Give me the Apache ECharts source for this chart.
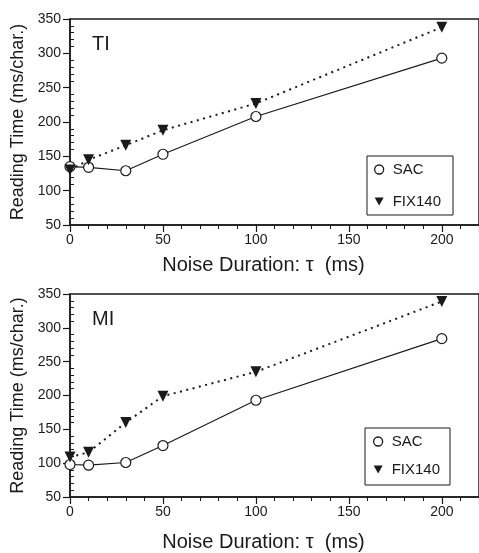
<!DOCTYPE html>
<html>
<head>
<meta charset="utf-8">
<script src="https://cdn.jsdelivr.net/npm/echarts@6/dist/echarts.min.js"></script>
<style>
  html, body { margin: 0; padding: 0; background: #fff; }
  #chart { width: 479px; height: 553px; }
</style>
</head>
<body>
<div id="chart"></div>
<script>
// noise duration (ms) on the x axis
const noiseDuration = [0, 10, 30, 50, 100, 200]

// reading time (ms/char.), top panel TI
const tiSAC = [135, 134, 129, 153, 208, 293]
const tiFIX140 = [130, 145, 166, 188, 227, 338]

// reading time (ms/char.), bottom panel MI
const miSAC = [98, 97, 101, 126, 193, 284]
const miFIX140 = [109, 116, 160, 199, 235, 339]

const panelLabels = ['TI', 'MI']
const seriesNames = ['SAC', 'FIX140']

const FONT = '"Liberation Sans", Arial, Helvetica, sans-serif'
const INK = '#1a1a1a'
const DOWN_TRIANGLE = 'path://M0,0L10,0L5,9Z'

const pairs = (ys) => noiseDuration.map((x, i) => [x, ys[i]])

const chart = echarts.init(document.getElementById('chart'))

const makeX = (gridIndex, nameGap) => ({
  type: 'value',
  gridIndex,
  min: 0,
  max: 220,
  interval: 50,
  name: 'Noise Duration: τ  (ms)',
  nameLocation: 'middle',
  nameGap,
  nameTextStyle: { fontFamily: FONT, fontSize: 20, color: INK, padding: [0, 22, 0, 0] },
  axisLine: { show: true, lineStyle: { color: INK, width: 1.5 } },
  axisTick: { show: true, length: 7, lineStyle: { color: INK, width: 1.2 } },
  minorTick: { show: true, splitNumber: 5, length: 4, lineStyle: { color: INK, width: 1 } },
  axisLabel: { fontFamily: FONT, fontSize: 14, color: INK, margin: 8, showMaxLabel: false },
  splitLine: { show: false }
})

const makeY = (gridIndex) => ({
  type: 'value',
  gridIndex,
  position: 'left',
  min: 50,
  max: 350,
  interval: 50,
  name: 'Reading Time (ms/char.)',
  nameLocation: 'middle',
  nameGap: 42,
  nameTextStyle: { fontFamily: FONT, fontSize: 18, color: INK },
  axisLine: { show: true, lineStyle: { color: INK, width: 1.5 } },
  axisTick: { show: true, length: 7, lineStyle: { color: INK, width: 1.2 } },
  axisLabel: { fontFamily: FONT, fontSize: 14, color: INK, margin: 9 },
  splitLine: { show: false }
})

// overlay axis: only the minor ticks, pointing into the plot
const makeYMinor = (gridIndex) => ({
  type: 'value',
  gridIndex,
  position: 'left',
  min: 50,
  max: 350,
  interval: 50,
  axisLine: { show: false, onZero: false },
  axisTick: { show: false, inside: true },
  minorTick: { show: true, splitNumber: 5, length: 4, lineStyle: { color: INK, width: 1 } },
  axisLabel: { show: false },
  splitLine: { show: false }
})

const makeSeries = (name, data, idx) => {
  const isSAC = name === 'SAC'
  return {
    name,
    type: 'line',
    xAxisIndex: idx,
    yAxisIndex: idx,
    data: pairs(data),
    symbol: isSAC ? 'circle' : 'triangle',
    symbolRotate: isSAC ? 0 : 180,
    symbolSize: isSAC ? 10 : 11,
    z: isSAC ? 2 : 3,
    lineStyle: isSAC
      ? { color: INK, width: 1.2, type: 'solid' }
      : { color: INK, width: 2, type: [2, 4.5] },
    itemStyle: isSAC
      ? { color: '#fff', borderColor: INK, borderWidth: 1.2 }
      : { color: INK, borderColor: INK, borderWidth: 0 },
    emphasis: { disabled: true },
    silent: true,
    animation: false
  }
}

const legendData = [
  { name: seriesNames[0], icon: 'circle', itemStyle: { color: '#fff', borderColor: INK, borderWidth: 1.3 } },
  { name: seriesNames[1], icon: DOWN_TRIANGLE, itemStyle: { color: INK, borderWidth: 0 } }
]

const makeLegend = (left, top, itemGap, padding) => ({
  orient: 'vertical',
  left,
  top,
  padding,
  itemGap,
  itemWidth: 9,
  itemHeight: 9,
  borderColor: INK,
  borderWidth: 1,
  selectedMode: false,
  data: legendData,
  textStyle: { fontFamily: FONT, fontSize: 15, color: INK, padding: [0, 0, 0, 4] }
})

const option = {
  backgroundColor: '#fff',
  animation: false,
  title: [
    { text: panelLabels[0], left: 92, top: 34, padding: 0, textStyle: { fontFamily: FONT, fontSize: 20, fontWeight: 'normal', color: INK } },
    { text: panelLabels[1], left: 92, top: 309, padding: 0, textStyle: { fontFamily: FONT, fontSize: 20, fontWeight: 'normal', color: INK } }
  ],
  legend: [
    makeLegend(367, 156, 17, [6, 12, 6, 7]),
    makeLegend(365, 428, 13, [6, 10, 8, 8])
  ],
  grid: [
    { left: 70, top: 19, width: 410, height: 206, show: true, borderColor: INK, borderWidth: 1.5, backgroundColor: 'transparent' },
    { left: 70, top: 294, width: 410, height: 203, show: true, borderColor: INK, borderWidth: 1.5, backgroundColor: 'transparent' }
  ],
  xAxis: [makeX(0, 30), makeX(1, 35)],
  yAxis: [makeY(0), makeY(1), makeYMinor(0), makeYMinor(1)],
  series: [
    makeSeries('SAC', tiSAC, 0),
    makeSeries('FIX140', tiFIX140, 0),
    makeSeries('SAC', miSAC, 1),
    makeSeries('FIX140', miFIX140, 1)
  ]
}

chart.setOption(option)
</script>
</body>
</html>
